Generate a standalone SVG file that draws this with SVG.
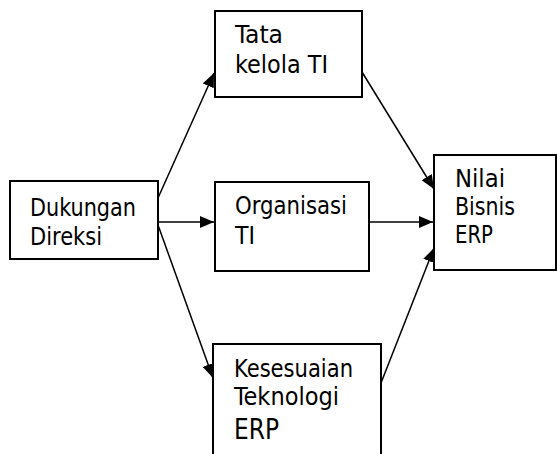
<svg xmlns="http://www.w3.org/2000/svg" width="557" height="454" viewBox="0 0 557 454">
<style>
.box{fill:#fff;stroke:#000;stroke-width:2}
.lbl{font-family:"DejaVu Sans Condensed","DejaVu Sans",sans-serif;font-size:24px;fill:#000}
.big{font-size:28px}
.con{stroke:#000;stroke-width:1.5;fill:none;marker-end:url(#ah)}
</style>
<defs>
<marker id="ah" markerUnits="userSpaceOnUse" markerWidth="14" markerHeight="12" refX="14" refY="6" orient="auto">
<path d="M0,0 L14,6 L0,12 z" fill="#000"/>
</marker>
</defs>
<rect width="557" height="454" fill="#fff"/>
<g id="connectors">
<line class="con" x1="158" y1="198" x2="214" y2="73"/>
<line class="con" x1="158" y1="222" x2="214" y2="222"/>
<line class="con" x1="158" y1="225" x2="213" y2="378"/>
<line class="con" x1="362" y1="72" x2="434" y2="189"/>
<line class="con" x1="369" y1="222" x2="433" y2="222"/>
<line class="con" x1="381" y1="383" x2="434" y2="248"/>
</g>
<g id="dukungan">
<rect class="box" x="10" y="181" width="148" height="78"/>
<text class="lbl" x="30" y="216" textLength="106" lengthAdjust="spacingAndGlyphs">Dukungan</text>
<text class="lbl" x="30" y="245" textLength="72" lengthAdjust="spacingAndGlyphs">Direksi</text>
</g>
<g id="tata">
<rect class="box" x="215" y="11" width="147" height="86"/>
<text class="lbl" x="235" y="43" textLength="48" lengthAdjust="spacingAndGlyphs">Tata</text>
<text class="lbl" x="235" y="73" textLength="93" lengthAdjust="spacingAndGlyphs">kelola TI</text>
</g>
<g id="organisasi">
<rect class="box" x="215" y="182" width="154" height="89"/>
<text class="lbl" x="235" y="214" textLength="112" lengthAdjust="spacingAndGlyphs">Organisasi</text>
<text class="lbl" x="235" y="244" textLength="20" lengthAdjust="spacingAndGlyphs">TI</text>
</g>
<g id="kesesuaian">
<rect class="box" x="213" y="344" width="168" height="120"/>
<text class="lbl" x="234" y="377" textLength="119" lengthAdjust="spacingAndGlyphs">Kesesuaian</text>
<text class="lbl" x="234" y="405" textLength="105" lengthAdjust="spacingAndGlyphs">Teknologi</text>
<text class="lbl big" x="234" y="439" textLength="45" lengthAdjust="spacingAndGlyphs">ERP</text>
</g>
<g id="nilai">
<rect class="box" x="434" y="155" width="122" height="115"/>
<text class="lbl" x="455" y="187" textLength="50" lengthAdjust="spacingAndGlyphs">Nilai</text>
<text class="lbl" x="455" y="215" textLength="60" lengthAdjust="spacingAndGlyphs">Bisnis</text>
<text class="lbl" x="455" y="243" textLength="38" lengthAdjust="spacingAndGlyphs">ERP</text>
</g>
</svg>
